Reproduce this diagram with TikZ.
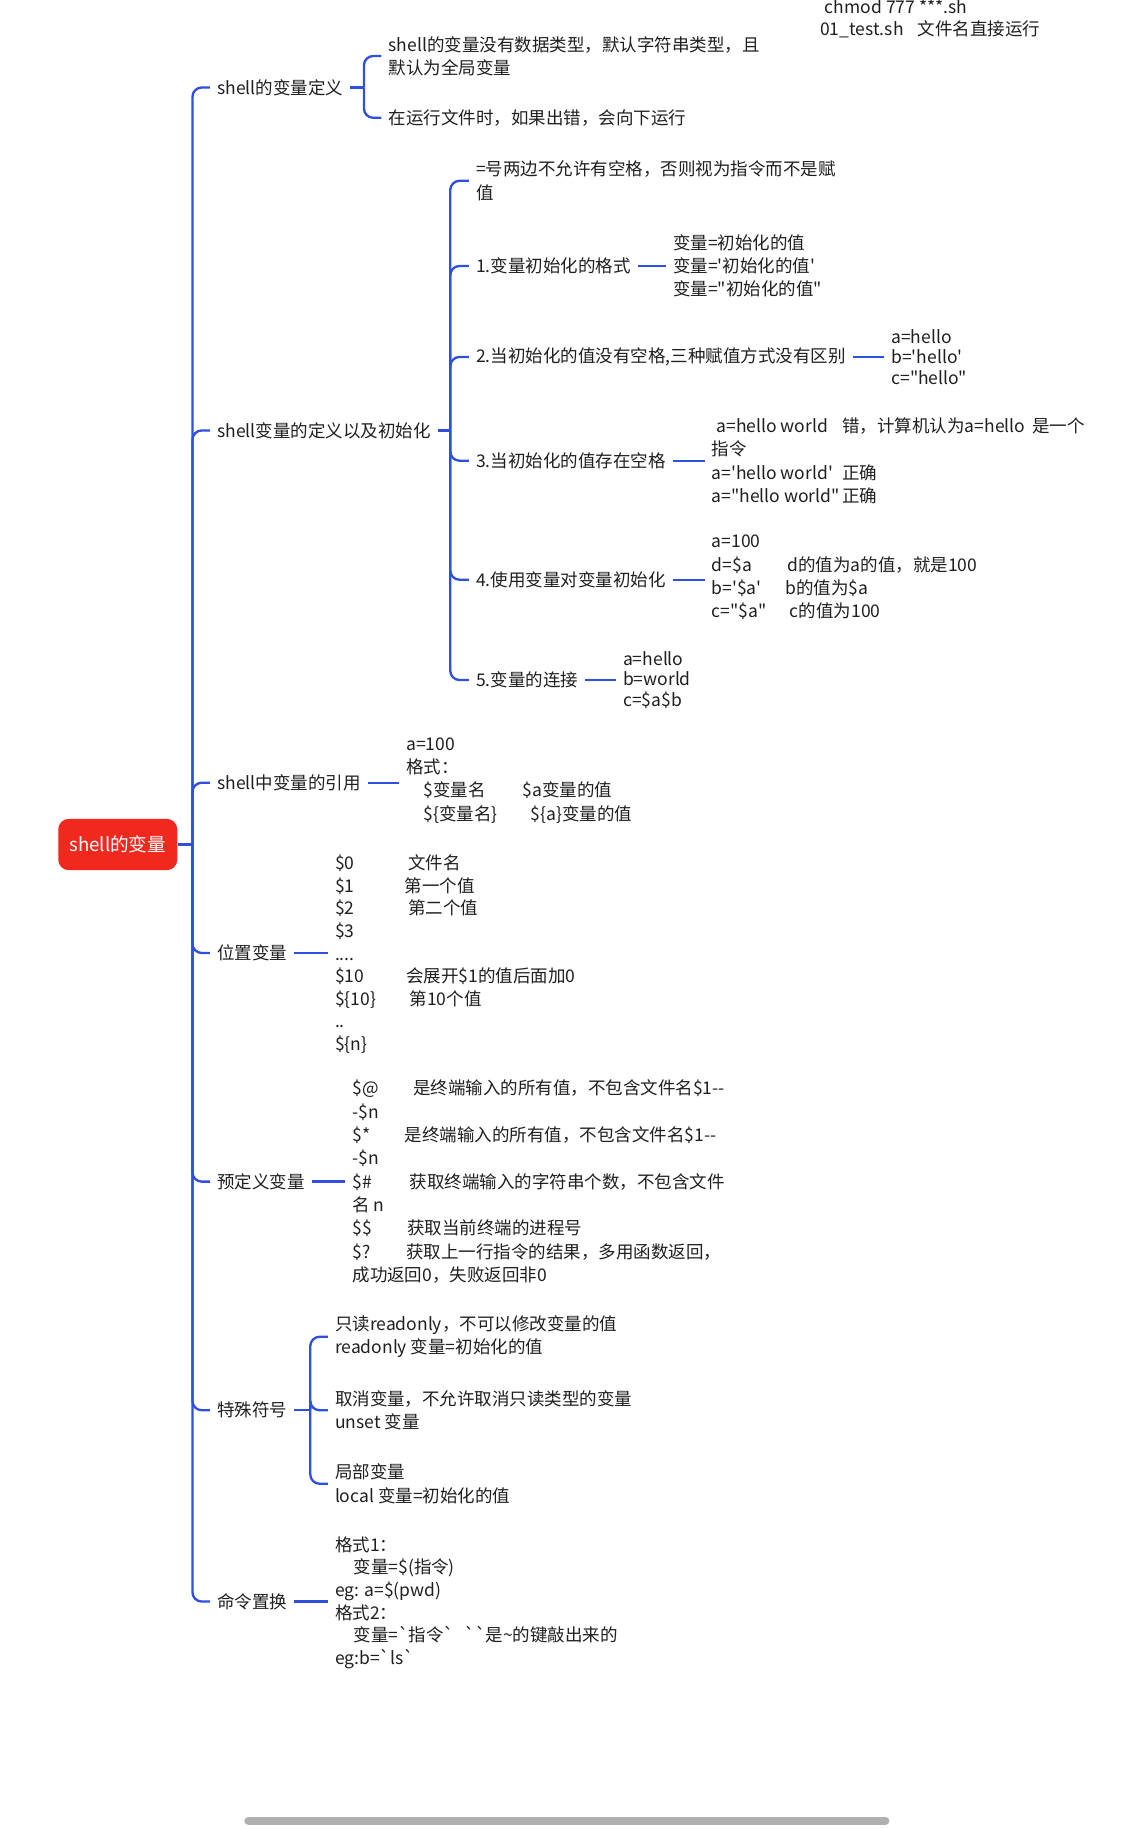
\documentclass[tikz,border=0pt]{standalone}
\usepackage{fontspec}
\setmainfont{Noto Sans CJK SC}[Ligatures=TeXOff]
\usetikzlibrary{positioning}
\definecolor{mapblue}{HTML}{2F4FE0}
\definecolor{rootred}{HTML}{F0281E}
\definecolor{inktxt}{HTML}{1F1F1F}

\begin{document}
\begin{tikzpicture}[
    x=1pt, y=-1pt,
    font=\fontsize{15}{20}\selectfont,
    topic/.style={anchor=west, inner xsep=6pt, inner ysep=2pt, align=left, text=inktxt},
    tight/.style={topic, font=\fontsize{15}{17.5}\selectfont},
    dense/.style={topic, font=\fontsize{15}{19.4}\selectfont},
    rootbox/.style={fill=rootred, rounded corners=9pt, text=white, font=\fontsize{16}{20}\selectfont, minimum width=102pt, minimum height=44pt},
    conn/.style={draw=mapblue, line width=2pt, rounded corners=8pt}
  ]
    \useasboundingbox (0,0) rectangle (976,1568);

    \node[rootbox] (root) at (101,724) {shell的变量};
    \coordinate (rj) at (165,724);
    \draw[conn] (root.east) -- (rj);

    \node[topic] (def) at (180,75) {shell的变量定义};
    \node[topic] (init) at (180,369) {shell变量的定义以及初始化};
    \node[topic] (ref) at (180,671) {shell中变量的引用};
    \node[topic] (pos) at (180,817) {位置变量};
    \node[topic] (pre) at (180,1013) {预定义变量};
    \node[topic] (spec) at (180,1209) {特殊符号};
    \node[topic] (subst) at (180,1373) {命令置换};
    \foreach \b in {def,init,ref,pos,pre,spec,subst}
      \draw[conn] (rj) |- (\b.west);

    \node[dense] (runnote) at (697,16) {\hspace{4pt}chmod 777 ***.sh\\01\_test.sh\hspace{12pt}文件名直接运行};

    \coordinate (defj) at (312,75);
    \node[topic] (deftype) at (327,48) {shell的变量没有数据类型，默认字符串类型，且\\默认为全局变量};
    \node[topic] (deferr) at (327,101) {在运行文件时，如果出错，会向下运行};
    \draw[conn] (def.east) -- (defj);
    \foreach \c in {deftype,deferr}
      \draw[conn] (defj) |- (\c.west);

    \coordinate (initj) at (386,369);
    \node[topic] (eqnote) at (402,155) {=号两边不允许有空格，否则视为指令而不是赋\\值};
    \node[topic] (fmt) at (402,228) {1.变量初始化的格式};
    \node[topic] (nosp) at (402,306) {2.当初始化的值没有空格,三种赋值方式没有区别};
    \node[topic] (withsp) at (402,395) {3.当初始化的值存在空格};
    \node[topic] (byvar) at (402,497) {4.使用变量对变量初始化};
    \node[topic] (concat) at (402,583) {5.变量的连接};
    \draw[conn] (init.east) -- (initj);
    \foreach \c in {eqnote,fmt,nosp,withsp,byvar,concat}
      \draw[conn] (initj) |- (\c.west);

    \node[topic] (fmtv) at (571,228) {变量=初始化的值\\变量='初始化的值'\\变量="初始化的值"};
    \node[tight] (nospv) at (758,306) {a=hello\\b='hello'\\c="hello"};
    \node[topic] (withspv) at (604,395) {\makebox[112pt][l]{\hspace{4pt}a=hello world}错，计算机认为a=hello\hspace{6pt}是一个\\指令\\\makebox[112pt][l]{a='hello world'}正确\\\makebox[112pt][l]{a="hello world"}正确};
    \node[topic] (byvarv) at (604,495) {a=100\\\makebox[65pt][l]{d=\$a}d的值为a的值，就是100\\\makebox[63pt][l]{b='\$a'}b的值为\$a\\\makebox[67pt][l]{c="\$a"}c的值为100};
    \node[tight] (concatv) at (528,583) {a=hello\\b=world\\c=\$a\$b};
    \draw[conn] (fmt.east) -- (fmt.east -| fmtv.west);
    \draw[conn] (nosp.east) -- (nosp.east -| nospv.west);
    \draw[conn] (withsp.east) -- (withsp.east -| withspv.west);
    \draw[conn] (byvar.east) -- (byvar.east -| byvarv.west);
    \draw[conn] (concat.east) -- (concat.east -| concatv.west);

    \node[topic] (refv) at (342,669) {a=100\\格式：\\\hspace{15pt}\makebox[85pt][l]{\$变量名}\$a变量的值\\\hspace{15pt}\makebox[92pt][l]{\$\{变量名\}}\$\{a\}变量的值};
    \draw[conn] (ref.east) -- (ref.east -| refv.west);

    \node[dense] (posv) at (281,818) {\makebox[63pt][l]{\$0}文件名\\\makebox[60pt][l]{\$1}第一个值\\\makebox[63pt][l]{\$2}第二个值\\\$3\\....\\\makebox[61pt][l]{\$10}会展开\$1的值后面加0\\\makebox[64pt][l]{\$\{10\}}第10个值\\..\\\$\{n\}};
    \draw[conn] (pos.east) -- (pos.east -| posv.west);

    \node[topic] (prev) at (296,1013) {\makebox[52pt][l]{\$@}是终端输入的所有值，不包含文件名\$1--\\-\$n\\\makebox[45pt][l]{\$*}是终端输入的所有值，不包含文件名\$1--\\-\$n\\\makebox[49pt][l]{\$\#}获取终端输入的字符串个数，不包含文件\\名 n\\\makebox[47pt][l]{\$\$}获取当前终端的进程号\\\makebox[46pt][l]{\$?}获取上一行指令的结果，多用函数返回，\\成功返回0，失败返回非0};
    \draw[conn] (pre.east) -- (pre.east -| prev.west);

    \coordinate (specj) at (266,1209);
    \node[topic] (ronly) at (281,1146) {只读readonly，不可以修改变量的值\\readonly 变量=初始化的值};
    \node[topic] (unset) at (281,1209) {取消变量，不允许取消只读类型的变量\\unset 变量};
    \node[topic] (local) at (281,1272) {局部变量\\local 变量=初始化的值};
    \draw[conn] (spec.east) -- (specj);
    \foreach \c in {ronly,unset,local}
      \draw[conn] (specj) |- (\c.west);

    \node[dense] (substv) at (281,1374) {格式1：\\\hspace{16pt}变量=\$(指令)\\eg: a=\$(pwd)\\格式2：\\\hspace{16pt}\makebox[95pt][l]{变量=`指令`}``是\textasciitilde 的键敲出来的\\eg:b=`ls`};
    \draw[conn] (subst.east) -- (subst.east -| substv.west);

    \draw[line width=7pt, line cap=round, draw=black!31] (213,1561) -- (759,1561);
  \end{tikzpicture}
\end{document}
